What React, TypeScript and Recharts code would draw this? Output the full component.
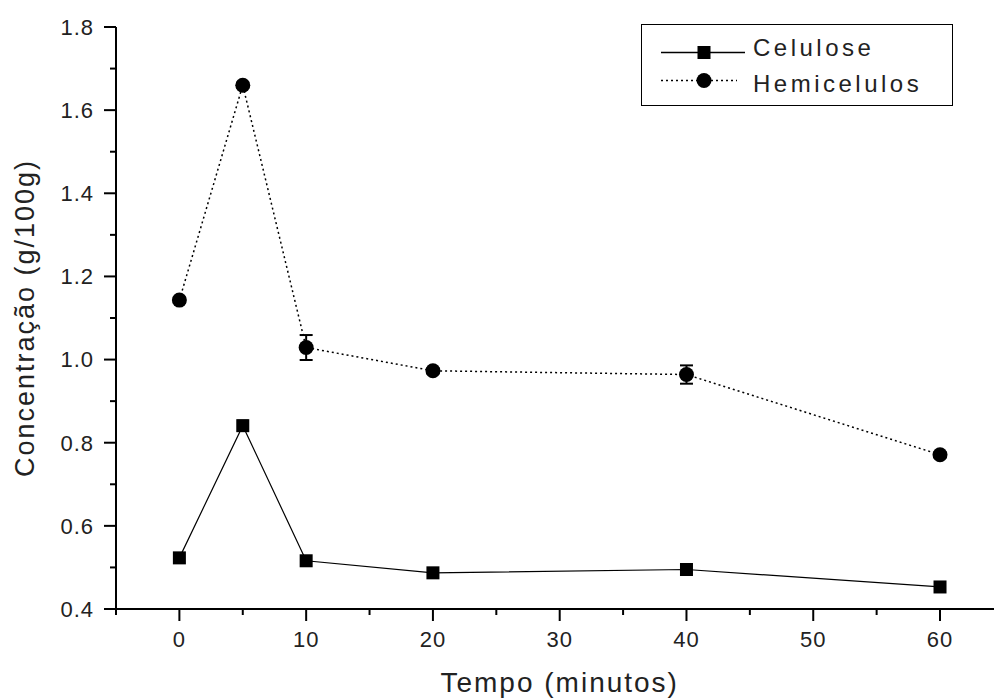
import { LineChart, Line, XAxis, YAxis, ErrorBar } from "recharts";

const tempos = [0, 5, 10, 20, 40, 60];
const celulose = [0.523, 0.841, 0.516, 0.487, 0.495, 0.453];
const celuloseErr = [0.003, 0.012, 0.005, 0.005, 0.005, 0.003];
const hemicelulos = [1.143, 1.66, 1.029, 0.973, 0.964, 0.771];
const hemiceluloseErr = [0.006, 0.006, 0.03, 0.006, 0.022, 0.006];

const xTicks = [-5, 0, 5, 10, 15, 20, 25, 30, 35, 40, 45, 50, 55, 60, 65];
const yTicks = [0.4, 0.5, 0.6, 0.7, 0.8, 0.9, 1.0, 1.1, 1.2, 1.3, 1.4, 1.5, 1.6, 1.7, 1.8];

const data = tempos.map((t, i) => ({
  t,
  cel: celulose[i],
  celErr: celuloseErr[i],
  hemi: hemicelulos[i],
  hemiErr: hemiceluloseErr[i],
}));

const FONT = "Arial, 'Liberation Sans', sans-serif";
const TICK = 12;
const MINOR = 6;
const GAP = 10;

const XTick = (props: any) => {
  const { x, y, payload } = props;
  const major = payload.value % 10 === 0;
  const axisY = y - TICK - GAP;
  return (
    <g>
      <line x1={x} x2={x} y1={axisY} y2={axisY + (major ? TICK : MINOR)} stroke="#000" strokeWidth={2} />
      {major && (
        <text x={x} y={y} dy="0.71em" textAnchor="middle" fontSize={22} fontFamily={FONT} fill="#222" letterSpacing={1}>
          {payload.value}
        </text>
      )}
    </g>
  );
};

const YTick = (props: any) => {
  const { x, y, payload } = props;
  const major = Math.round(payload.value * 10) % 2 === 0;
  const axisX = x + TICK + GAP;
  return (
    <g>
      <line x1={axisX} x2={axisX - (major ? TICK : MINOR)} y1={y} y2={y} stroke="#000" strokeWidth={2} />
      {major && (
        <text x={x} y={y} dy="0.36em" textAnchor="end" fontSize={22} fontFamily={FONT} fill="#222" letterSpacing={1}>
          {payload.value.toFixed(1)}
        </text>
      )}
    </g>
  );
};

const SquareDot = (props: any) => {
  const { cx, cy, index } = props;
  return <rect key={`s${index}`} x={cx - 6.5} y={cy - 6.5} width={13} height={13} fill="#000" />;
};

const CircleDot = (props: any) => {
  const { cx, cy, index } = props;
  return <circle key={`c${index}`} cx={cx} cy={cy} r={7.5} fill="#000" />;
};

const Legenda = () => (
  <div
    style={{
      position: "absolute",
      left: 641,
      top: 24,
      width: 312,
      height: 82,
      border: "1.5px solid #000",
      boxSizing: "border-box",
      background: "#fff",
    }}
  >
    <svg width={312} height={82} style={{ position: "absolute", left: -1.5, top: -1.5 }}>
      <line x1={20} x2={104} y1={28.5} y2={28.5} stroke="#000" strokeWidth={1.5} />
      <rect x={56.5} y={22} width={13} height={13} fill="#000" />
      <text x={112} y={32} fontSize={24} fontFamily={FONT} letterSpacing={3.5} fill="#222">
        Celulose
      </text>
      <line x1={20} x2={96} y1={56.5} y2={56.5} stroke="#000" strokeWidth={1.5} strokeDasharray="2 3" />
      <circle cx={63} cy={56.5} r={7.5} fill="#000" />
      <text x={112} y={67.5} fontSize={24} fontFamily={FONT} letterSpacing={3.5} fill="#222">
        Hemicelulos
      </text>
    </svg>
  </div>
);

export default function App() {
  return (
    <div style={{ position: "absolute", left: 0, top: 0, width: 994, height: 700, overflow: "hidden", background: "#fff" }}>
      <LineChart width={1010} height={700} data={data} margin={{ top: 27, right: 6.6, bottom: 0, left: 0 }}>
        <XAxis
          dataKey="t"
          type="number"
          domain={[-5, 65]}
          ticks={xTicks}
          interval={0}
          allowDataOverflow
          height={91}
          stroke="#000"
          strokeWidth={2}
          tickLine={false}
          tickSize={TICK}
          tickMargin={GAP}
          tick={<XTick />}
          label={{
            value: "Tempo (minutos)",
            position: "insideBottom",
            offset: 8,
            fontSize: 28,
            fontFamily: FONT,
            fill: "#222",
            letterSpacing: 2,
          }}
        />
        <YAxis
          type="number"
          domain={[0.4, 1.8]}
          ticks={yTicks}
          interval={0}
          allowDataOverflow
          width={116}
          stroke="#000"
          strokeWidth={2}
          tickLine={false}
          tickSize={TICK}
          tickMargin={GAP}
          tick={<YTick />}
          label={{
            value: "Concentração (g/100g)",
            angle: -90,
            position: "insideLeft",
            offset: 24,
            fontSize: 27,
            fontFamily: FONT,
            fill: "#222",
            letterSpacing: 2,
            style: { textAnchor: "middle" },
          }}
        />
        <Line
          dataKey="cel"
          stroke="#000"
          strokeWidth={1.2}
          dot={<SquareDot />}
          activeDot={false}
          isAnimationActive={false}
        >
          <ErrorBar dataKey="celErr" width={5.5} stroke="#000" strokeWidth={2} direction="y" />
        </Line>
        <Line
          dataKey="hemi"
          stroke="#000"
          strokeWidth={1.5}
          strokeDasharray="2 3"
          dot={<CircleDot />}
          activeDot={false}
          isAnimationActive={false}
        >
          <ErrorBar dataKey="hemiErr" width={6.5} stroke="#000" strokeWidth={2} direction="y" />
        </Line>
      </LineChart>
      <Legenda />
    </div>
  );
}
